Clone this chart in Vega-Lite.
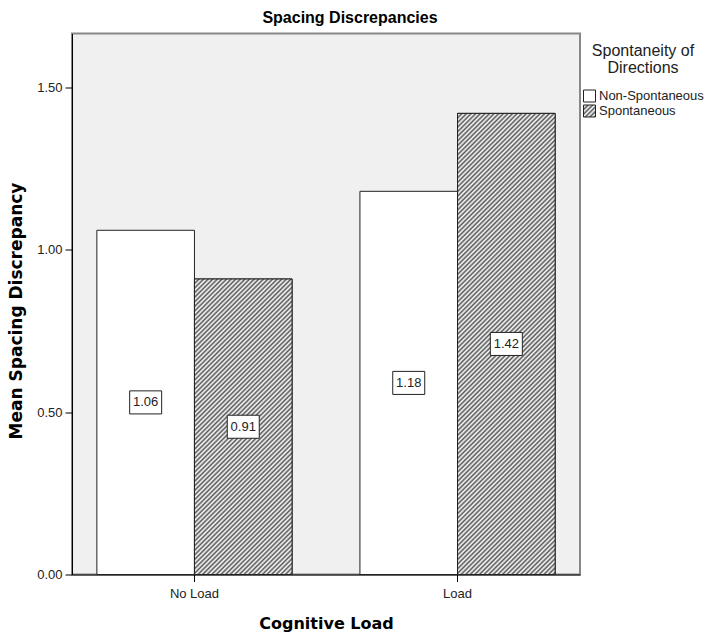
{
"$schema": "https://vega.github.io/schema/vega-lite/v6.json",
"width": 508,
"height": 541,
"autosize": {"type": "none"},
"padding": {"left": 72, "top": 33.5, "right": 130, "bottom": 59.5},
"background": "white",
"title": {"text": "Spacing Discrepancies", "font": "Liberation Sans", "fontSize": 16, "fontWeight": "bold", "color": "#000", "anchor": "middle", "offset": 8, "dx": 24},
"params": [
{"name": "stops", "value": [
{"offset":0,"color":"#555"},{"offset":0.004,"color":"#fff"},{"offset":0.008,"color":"#555"},{"offset":0.012,"color":"#fff"},{"offset":0.016,"color":"#555"},{"offset":0.02,"color":"#fff"},{"offset":0.024,"color":"#555"},{"offset":0.028,"color":"#fff"},{"offset":0.032,"color":"#555"},{"offset":0.036,"color":"#fff"},
{"offset":0.04,"color":"#555"},{"offset":0.044,"color":"#fff"},{"offset":0.048,"color":"#555"},{"offset":0.052,"color":"#fff"},{"offset":0.056,"color":"#555"},{"offset":0.06,"color":"#fff"},{"offset":0.064,"color":"#555"},{"offset":0.068,"color":"#fff"},{"offset":0.072,"color":"#555"},{"offset":0.076,"color":"#fff"},
{"offset":0.08,"color":"#555"},{"offset":0.084,"color":"#fff"},{"offset":0.088,"color":"#555"},{"offset":0.092,"color":"#fff"},{"offset":0.096,"color":"#555"},{"offset":0.1,"color":"#fff"},{"offset":0.104,"color":"#555"},{"offset":0.108,"color":"#fff"},{"offset":0.112,"color":"#555"},{"offset":0.116,"color":"#fff"},
{"offset":0.12,"color":"#555"},{"offset":0.124,"color":"#fff"},{"offset":0.128,"color":"#555"},{"offset":0.132,"color":"#fff"},{"offset":0.136,"color":"#555"},{"offset":0.14,"color":"#fff"},{"offset":0.144,"color":"#555"},{"offset":0.148,"color":"#fff"},{"offset":0.152,"color":"#555"},{"offset":0.156,"color":"#fff"},
{"offset":0.16,"color":"#555"},{"offset":0.164,"color":"#fff"},{"offset":0.168,"color":"#555"},{"offset":0.172,"color":"#fff"},{"offset":0.176,"color":"#555"},{"offset":0.18,"color":"#fff"},{"offset":0.184,"color":"#555"},{"offset":0.188,"color":"#fff"},{"offset":0.192,"color":"#555"},{"offset":0.196,"color":"#fff"},
{"offset":0.2,"color":"#555"},{"offset":0.204,"color":"#fff"},{"offset":0.208,"color":"#555"},{"offset":0.212,"color":"#fff"},{"offset":0.216,"color":"#555"},{"offset":0.22,"color":"#fff"},{"offset":0.224,"color":"#555"},{"offset":0.228,"color":"#fff"},{"offset":0.232,"color":"#555"},{"offset":0.236,"color":"#fff"},
{"offset":0.24,"color":"#555"},{"offset":0.244,"color":"#fff"},{"offset":0.248,"color":"#555"},{"offset":0.252,"color":"#fff"},{"offset":0.256,"color":"#555"},{"offset":0.26,"color":"#fff"},{"offset":0.264,"color":"#555"},{"offset":0.268,"color":"#fff"},{"offset":0.272,"color":"#555"},{"offset":0.276,"color":"#fff"},
{"offset":0.28,"color":"#555"},{"offset":0.284,"color":"#fff"},{"offset":0.288,"color":"#555"},{"offset":0.292,"color":"#fff"},{"offset":0.296,"color":"#555"},{"offset":0.3,"color":"#fff"},{"offset":0.304,"color":"#555"},{"offset":0.308,"color":"#fff"},{"offset":0.312,"color":"#555"},{"offset":0.316,"color":"#fff"},
{"offset":0.32,"color":"#555"},{"offset":0.324,"color":"#fff"},{"offset":0.328,"color":"#555"},{"offset":0.332,"color":"#fff"},{"offset":0.336,"color":"#555"},{"offset":0.34,"color":"#fff"},{"offset":0.344,"color":"#555"},{"offset":0.348,"color":"#fff"},{"offset":0.352,"color":"#555"},{"offset":0.356,"color":"#fff"},
{"offset":0.36,"color":"#555"},{"offset":0.364,"color":"#fff"},{"offset":0.368,"color":"#555"},{"offset":0.372,"color":"#fff"},{"offset":0.376,"color":"#555"},{"offset":0.38,"color":"#fff"},{"offset":0.384,"color":"#555"},{"offset":0.388,"color":"#fff"},{"offset":0.392,"color":"#555"},{"offset":0.396,"color":"#fff"},
{"offset":0.4,"color":"#555"},{"offset":0.404,"color":"#fff"},{"offset":0.408,"color":"#555"},{"offset":0.412,"color":"#fff"},{"offset":0.416,"color":"#555"},{"offset":0.42,"color":"#fff"},{"offset":0.424,"color":"#555"},{"offset":0.428,"color":"#fff"},{"offset":0.432,"color":"#555"},{"offset":0.436,"color":"#fff"},
{"offset":0.44,"color":"#555"},{"offset":0.444,"color":"#fff"},{"offset":0.448,"color":"#555"},{"offset":0.452,"color":"#fff"},{"offset":0.456,"color":"#555"},{"offset":0.46,"color":"#fff"},{"offset":0.464,"color":"#555"},{"offset":0.468,"color":"#fff"},{"offset":0.472,"color":"#555"},{"offset":0.476,"color":"#fff"},
{"offset":0.48,"color":"#555"},{"offset":0.484,"color":"#fff"},{"offset":0.488,"color":"#555"},{"offset":0.492,"color":"#fff"},{"offset":0.496,"color":"#555"},{"offset":0.5,"color":"#fff"},{"offset":0.504,"color":"#555"},{"offset":0.508,"color":"#fff"},{"offset":0.512,"color":"#555"},{"offset":0.516,"color":"#fff"},
{"offset":0.52,"color":"#555"},{"offset":0.524,"color":"#fff"},{"offset":0.528,"color":"#555"},{"offset":0.532,"color":"#fff"},{"offset":0.536,"color":"#555"},{"offset":0.54,"color":"#fff"},{"offset":0.544,"color":"#555"},{"offset":0.548,"color":"#fff"},{"offset":0.552,"color":"#555"},{"offset":0.556,"color":"#fff"},
{"offset":0.56,"color":"#555"},{"offset":0.564,"color":"#fff"},{"offset":0.568,"color":"#555"},{"offset":0.572,"color":"#fff"},{"offset":0.576,"color":"#555"},{"offset":0.58,"color":"#fff"},{"offset":0.584,"color":"#555"},{"offset":0.588,"color":"#fff"},{"offset":0.592,"color":"#555"},{"offset":0.596,"color":"#fff"},
{"offset":0.6,"color":"#555"},{"offset":0.604,"color":"#fff"},{"offset":0.608,"color":"#555"},{"offset":0.612,"color":"#fff"},{"offset":0.616,"color":"#555"},{"offset":0.62,"color":"#fff"},{"offset":0.624,"color":"#555"},{"offset":0.628,"color":"#fff"},{"offset":0.632,"color":"#555"},{"offset":0.636,"color":"#fff"},
{"offset":0.64,"color":"#555"},{"offset":0.644,"color":"#fff"},{"offset":0.648,"color":"#555"},{"offset":0.652,"color":"#fff"},{"offset":0.656,"color":"#555"},{"offset":0.66,"color":"#fff"},{"offset":0.664,"color":"#555"},{"offset":0.668,"color":"#fff"},{"offset":0.672,"color":"#555"},{"offset":0.676,"color":"#fff"},
{"offset":0.68,"color":"#555"},{"offset":0.684,"color":"#fff"},{"offset":0.688,"color":"#555"},{"offset":0.692,"color":"#fff"},{"offset":0.696,"color":"#555"},{"offset":0.7,"color":"#fff"},{"offset":0.704,"color":"#555"},{"offset":0.708,"color":"#fff"},{"offset":0.712,"color":"#555"},{"offset":0.716,"color":"#fff"},
{"offset":0.72,"color":"#555"},{"offset":0.724,"color":"#fff"},{"offset":0.728,"color":"#555"},{"offset":0.732,"color":"#fff"},{"offset":0.736,"color":"#555"},{"offset":0.74,"color":"#fff"},{"offset":0.744,"color":"#555"},{"offset":0.748,"color":"#fff"},{"offset":0.752,"color":"#555"},{"offset":0.756,"color":"#fff"},
{"offset":0.76,"color":"#555"},{"offset":0.764,"color":"#fff"},{"offset":0.768,"color":"#555"},{"offset":0.772,"color":"#fff"},{"offset":0.776,"color":"#555"},{"offset":0.78,"color":"#fff"},{"offset":0.784,"color":"#555"},{"offset":0.788,"color":"#fff"},{"offset":0.792,"color":"#555"},{"offset":0.796,"color":"#fff"},
{"offset":0.8,"color":"#555"},{"offset":0.804,"color":"#fff"},{"offset":0.808,"color":"#555"},{"offset":0.812,"color":"#fff"},{"offset":0.816,"color":"#555"},{"offset":0.82,"color":"#fff"},{"offset":0.824,"color":"#555"},{"offset":0.828,"color":"#fff"},{"offset":0.832,"color":"#555"},{"offset":0.836,"color":"#fff"},
{"offset":0.84,"color":"#555"},{"offset":0.844,"color":"#fff"},{"offset":0.848,"color":"#555"},{"offset":0.852,"color":"#fff"},{"offset":0.856,"color":"#555"},{"offset":0.86,"color":"#fff"},{"offset":0.864,"color":"#555"},{"offset":0.868,"color":"#fff"},{"offset":0.872,"color":"#555"},{"offset":0.876,"color":"#fff"},
{"offset":0.88,"color":"#555"},{"offset":0.884,"color":"#fff"},{"offset":0.888,"color":"#555"},{"offset":0.892,"color":"#fff"},{"offset":0.896,"color":"#555"},{"offset":0.9,"color":"#fff"},{"offset":0.904,"color":"#555"},{"offset":0.908,"color":"#fff"},{"offset":0.912,"color":"#555"},{"offset":0.916,"color":"#fff"},
{"offset":0.92,"color":"#555"},{"offset":0.924,"color":"#fff"},{"offset":0.928,"color":"#555"},{"offset":0.932,"color":"#fff"},{"offset":0.936,"color":"#555"},{"offset":0.94,"color":"#fff"},{"offset":0.944,"color":"#555"},{"offset":0.948,"color":"#fff"},{"offset":0.952,"color":"#555"},{"offset":0.956,"color":"#fff"},
{"offset":0.96,"color":"#555"},{"offset":0.964,"color":"#fff"},{"offset":0.968,"color":"#555"},{"offset":0.972,"color":"#fff"},{"offset":0.976,"color":"#555"},{"offset":0.98,"color":"#fff"},{"offset":0.984,"color":"#555"},{"offset":0.988,"color":"#fff"},{"offset":0.992,"color":"#555"},{"offset":0.996,"color":"#fff"},
{"offset":1,"color":"#555"}
]},
{"name": "gA", "expr": "{gradient: 'linear', x1: 0, y1: 0, x2: 0.5795, y2: 1.7545, stops: stops}"},
{"name": "gB", "expr": "{gradient: 'linear', x1: 0, y1: 0, x2: 0.2526, y2: 1.1935, stops: stops}"},
{"name": "gL", "expr": "{gradient: 'linear', x1: 0, y1: 0, x2: 23.96, y2: 23.96, stops: stops}"}
],
"data": {"values": [
{"load": "No Load", "spont": "Non-Spontaneous", "value": 1.06},
{"load": "No Load", "spont": "Spontaneous", "value": 0.91},
{"load": "Load", "spont": "Non-Spontaneous", "value": 1.18},
{"load": "Load", "spont": "Spontaneous", "value": 1.42}
]},
"encoding": {
"x": {"field": "load", "type": "nominal", "sort": ["No Load", "Load"], "title": "Cognitive Load",
 "scale": {"paddingInner": 0.258, "paddingOuter": 0.0945},
 "axis": {"labelAngle": 0, "tickSize": 7, "labelPadding": 6, "titleFont": "DejaVu Sans", "titleFontSize": 16, "titleFontWeight": "bold", "titleColor": "#000", "titleY": 54, "titleBaseline": "alphabetic"}},
"xOffset": {"field": "spont", "type": "nominal", "sort": ["Non-Spontaneous", "Spontaneous"], "scale": {"paddingInner": 0, "paddingOuter": 0}}
},
"layer": [
{"mark": {"type": "bar", "stroke": "#222", "strokeWidth": 1},
 "encoding": {
  "y": {"field": "value", "type": "quantitative", "title": "Mean Spacing Discrepancy",
   "scale": {"domain": [0, 1.666], "nice": false},
   "axis": {"values": [0, 0.5, 1, 1.5], "format": ".2f", "grid": false, "tickSize": 7, "labelPadding": 3, "titleFont": "DejaVu Sans", "titleFontSize": 17, "titleFontWeight": "bold", "titleColor": "#000", "titleX": -56, "titleY": 277, "titleAngle": -90, "titleAlign": "center", "titleBaseline": "middle"}},
  "fill": {"field": "spont", "type": "nominal", "scale": {"domain": ["Non-Spontaneous", "Spontaneous"], "range": ["white", {"expr": "gL"}]},
   "legend": {"title": ["Spontaneity of", "Directions"], "orient": "none", "legendX": 511, "legendY": 9, "padding": 0,
    "symbolType": "square", "symbolSize": 144, "symbolStrokeColor": "#222", "symbolStrokeWidth": 1,
    "titleFont": "Liberation Sans", "titleFontSize": 16, "titleFontWeight": "normal", "titleColor": "#222", "titleAlign": "center", "titleAnchor": "middle", "titleLineHeight": 17, "titlePadding": 14,
    "labelFont": "Liberation Sans", "labelFontSize": 13, "labelColor": "#222", "labelOffset": 3, "rowPadding": -2}}
 }},
{"transform": [{"filter": "datum.spont === 'Spontaneous'"}],
 "mark": {"type": "bar", "stroke": "#222", "strokeWidth": 1, "fill": {"expr": "datum.load === 'No Load' ? gA : gB"}},
 "encoding": {"y": {"field": "value", "type": "quantitative", "scale": {"domain": [0, 1.666], "nice": false}, "axis": null}}},
{"mark": {"type": "point", "shape": "M-1,-0.72L1,-0.72L1,0.72L-1,0.72Z", "size": 1024, "filled": true, "fill": "white", "stroke": "#222", "strokeWidth": 1, "opacity": 1},
 "encoding": {"y": {"field": "value", "type": "quantitative", "scale": {"domain": [0, 3.332], "nice": false}, "axis": null}}},
{"mark": {"type": "text", "font": "Liberation Sans", "fontSize": 13, "color": "#222", "baseline": "middle", "align": "center"},
 "encoding": {"y": {"field": "value", "type": "quantitative", "scale": {"domain": [0, 3.332], "nice": false}, "axis": null},
  "text": {"field": "value", "type": "quantitative", "format": ".2f"}}}
],
"resolve": {"scale": {"y": "independent"}},
"config": {
"view": {"fill": "#f0f0f0", "stroke": "#888", "strokeWidth": 2},
"axis": {"domainColor": "#000", "tickColor": "#000", "labelFont": "Liberation Sans", "labelFontSize": 13, "labelColor": "#222", "domainWidth": 1, "tickWidth": 1}
}
}
